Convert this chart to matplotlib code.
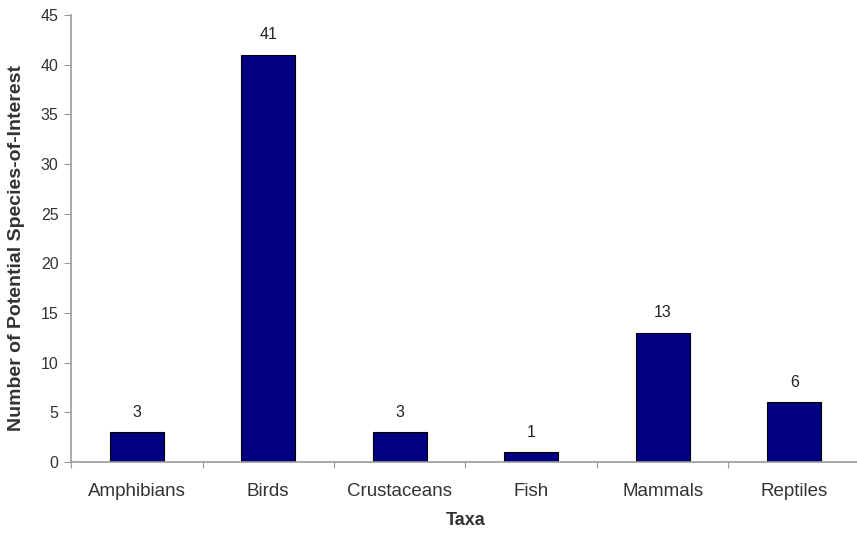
import matplotlib
matplotlib.use('Agg')
import matplotlib.pyplot as plt

taxa = ['Amphibians', 'Birds', 'Crustaceans', 'Fish', 'Mammals', 'Reptiles']
counts = [3, 41, 3, 1, 13, 6]
yticks = [0, 5, 10, 15, 20, 25, 30, 35, 40, 45]

plt.rcParams['font.family'] = ['Liberation Sans', 'DejaVu Sans']

fig = plt.figure(figsize=(8.57, 5.33), dpi=100, facecolor='white')
ax = fig.add_axes([71 / 857, 71 / 533, 789 / 857, 447 / 533])

x = list(range(len(taxa)))
ax.bar(x, counts, width=0.41, color='#000080', edgecolor='black', linewidth=0.8)
for xi, c in zip(x, counts):
    ax.annotate(str(c), (xi, c), xytext=(0, 9), textcoords='offset points',
                ha='center', va='bottom', fontsize=11.5, color='#222222')

ax.set_xlim(-0.5, len(taxa) - 0.5)
ax.set_ylim(0, 45)
ax.set_yticks(yticks)
# category boundaries get the tick marks, centres get the labels
ax.set_xticks([i - 0.5 for i in range(len(taxa) + 1)])
ax.set_xticklabels([])
ax.set_xticks(x, minor=True)
ax.set_xticklabels(taxa, minor=True)
ax.tick_params(axis='x', which='minor', length=0, pad=15, labelsize=13.5, labelcolor='#333333')
ax.tick_params(axis='x', which='major', length=4, direction='out', color='#999999')
ax.tick_params(axis='y', length=5, direction='out', color='#999999', labelsize=11.5,
               labelcolor='#333333', pad=4)

for s in ['top', 'right']:
    ax.spines[s].set_visible(False)
for s in ['left', 'bottom']:
    ax.spines[s].set_color('#999999')
    ax.spines[s].set_linewidth(1.2)

ax.set_xlabel('Taxa', fontsize=13, fontweight='bold', color='#333333', labelpad=9)
ax.set_ylabel('Number of Potential Species-of-Interest', fontsize=14,
              fontweight='bold', color='#333333')
ax.yaxis.set_label_coords(-0.058, 0.478)

fig.savefig('out.png', dpi=100, facecolor='white')
